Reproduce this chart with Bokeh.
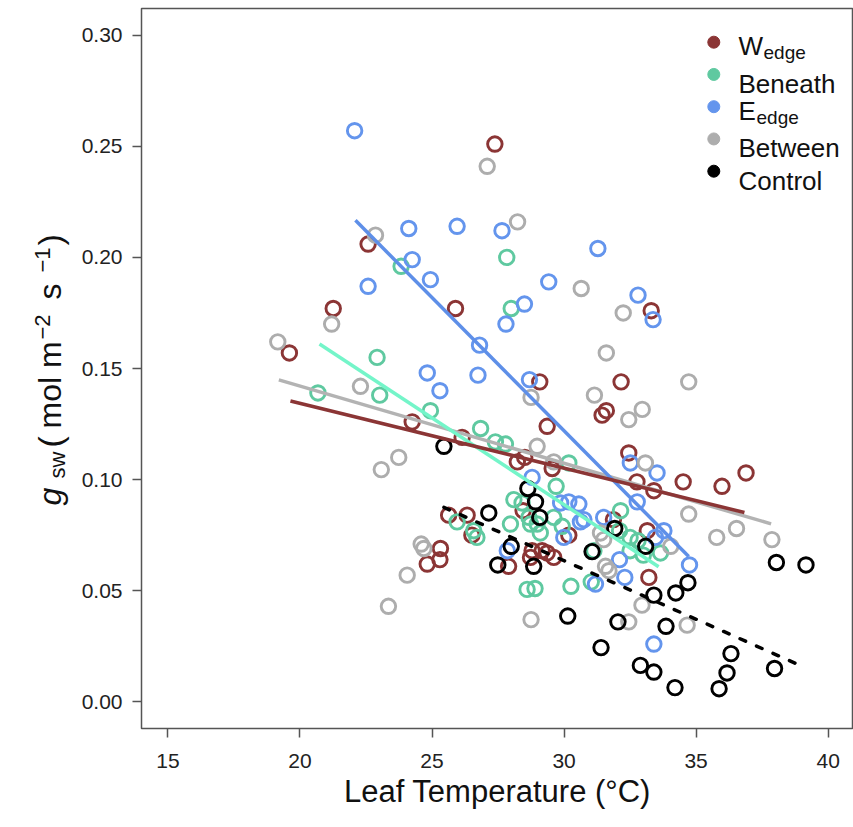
import numpy as np
from bokeh.plotting import figure
from bokeh.layouts import row
from bokeh.models import Range1d, FixedTicker, PrintfTickFormatter, Label
from bokeh.core.properties import value
from bokeh.embed import file_html
from bokeh.resources import INLINE

# ---------------- data ----------------
wedge_x = [22.58, 21.26, 19.6, 27.38, 25.89, 29.08, 32.16, 31.44, 31.6, 29.36, 24.25, 26.14,
           28.23, 28.51, 29.55, 28.45, 31.87, 25.63, 26.33, 26.51, 28.79, 29.36, 25.32, 25.3,
           24.82, 27.9, 28.73, 29.61, 33.21, 32.45, 32.76, 33.4, 34.51, 35.98, 36.89, 33.15,
           30.18, 29.17, 33.3]
wedge_y = [0.206, 0.177, 0.157, 0.251, 0.177, 0.144, 0.144, 0.129, 0.131, 0.124, 0.126, 0.119,
           0.108, 0.110, 0.105, 0.086, 0.082, 0.084, 0.084, 0.075, 0.068, 0.067, 0.069, 0.064,
           0.062, 0.061, 0.065, 0.065, 0.056, 0.112, 0.099, 0.095, 0.099, 0.097, 0.103, 0.077,
           0.075, 0.068, 0.176]

beneath_x = [22.92, 20.68, 23.02, 27.83, 23.83, 28.0, 24.94, 26.84, 27.4, 27.78, 30.18, 29.7,
             28.1, 28.41, 28.67, 28.98, 29.61, 32.14, 25.95, 26.7, 28.6, 28.9, 30.26, 31.03,
             28.73, 29.1, 29.93, 27.97, 32.1, 32.5, 32.8, 33.65, 31.13, 26.58, 32.5, 33.0]
beneath_y = [0.155, 0.139, 0.138, 0.200, 0.196, 0.177, 0.131, 0.123, 0.117, 0.116, 0.1075, 0.097,
             0.091, 0.0895, 0.083, 0.080, 0.083, 0.086, 0.081, 0.074, 0.0506, 0.051, 0.052, 0.054,
             0.080, 0.076, 0.079, 0.080, 0.077, 0.074, 0.0725, 0.067, 0.068, 0.077, 0.068, 0.066]

eedge_x = [22.07, 22.58, 24.12, 25.95, 27.65, 31.28, 24.25, 24.94, 29.42, 32.8, 28.5, 27.8,
           26.8, 33.37, 24.82, 25.3, 26.74, 28.69, 28.79, 30.18, 29.87, 30.56, 30.75, 31.5,
           32.51, 33.52, 32.77, 33.78, 33.46, 29.99, 27.85, 31.19, 32.1, 32.3, 34.75, 33.4, 30.62]
eedge_y = [0.257, 0.187, 0.213, 0.214, 0.212, 0.204, 0.199, 0.190, 0.189, 0.183, 0.179, 0.170,
           0.1605, 0.172, 0.148, 0.140, 0.147, 0.145, 0.101, 0.090, 0.0895, 0.089, 0.082, 0.083,
           0.1075, 0.103, 0.090, 0.077, 0.074, 0.074, 0.068, 0.053, 0.064, 0.056, 0.0616, 0.026, 0.081]

between_x = [19.16, 21.2, 22.86, 27.09, 28.24, 30.65, 32.24, 31.6, 22.29, 23.08, 23.74, 28.75,
             31.15, 32.45, 32.96, 28.98, 29.61, 34.72, 33.08, 34.72, 36.53, 35.78, 37.87, 34.04,
             24.59, 24.69, 24.06, 23.35, 28.75, 31.7, 32.45, 32.95, 34.66, 31.38, 31.5, 31.57]
between_y = [0.162, 0.170, 0.210, 0.241, 0.216, 0.186, 0.175, 0.157, 0.142, 0.1045, 0.110, 0.137,
             0.138, 0.127, 0.1316, 0.115, 0.108, 0.144, 0.1075, 0.0845, 0.078, 0.074, 0.073, 0.070,
             0.071, 0.069, 0.057, 0.043, 0.037, 0.059, 0.036, 0.0435, 0.0345, 0.076, 0.073, 0.061]

control_x = [25.45, 28.63, 28.92, 29.08, 31.92, 27.15, 28.0, 27.49, 28.85, 31.06, 33.09, 30.14,
             32.04, 31.4, 38.04, 39.16, 34.69, 34.23, 33.4, 33.86, 32.89, 33.4, 34.2, 36.32,
             36.17, 35.87, 37.97]
control_y = [0.115, 0.096, 0.090, 0.083, 0.078, 0.085, 0.070, 0.0616, 0.061, 0.0676, 0.070, 0.0386,
             0.036, 0.0244, 0.0627, 0.0616, 0.0536, 0.049, 0.048, 0.034, 0.0164, 0.0134, 0.0064, 0.0217,
             0.013, 0.0059, 0.015]

# fitted regression lines (end points)
wedge_fit_x = [19.64, 36.83];   wedge_fit_y = [0.1354, 0.0852]
beneath_fit_x = [20.74, 33.58]; beneath_fit_y = [0.161, 0.0608]
eedge_fit_x = [22.1, 34.72];    eedge_fit_y = [0.2167, 0.0654]
between_fit_x = [19.2, 37.84];  between_fit_y = [0.1449, 0.0801]
control_fit_x = [25.45, 39.07]; control_fit_y = [0.0875, 0.0157]

x_ticks = [15, 20, 25, 30, 35, 40]
y_ticks = [0.0, 0.05, 0.10, 0.15, 0.20, 0.25, 0.30]

# ---------------- layout / styling ----------------
FONT = "Liberation Sans"
W, H = 853, 827
LW = 74                     # width of the strip holding the rotated y label
ML, MR, MT, MB = 141, 0, 8, 99
FW, FH = W - ML - MR, H - MT - MB
PX_PER_X = 26.41
X0 = 14.0
X1 = X0 + FW / PX_PER_X

series = [
    dict(x=wedge_x, y=wedge_y, fx=wedge_fit_x, fy=wedge_fit_y, col="#8b3535", lcol="#8b3535", dash="solid"),
    dict(x=beneath_x, y=beneath_y, fx=beneath_fit_x, fy=beneath_fit_y, col="#5fc9a0", lcol="#74f5c9", dash="solid"),
    dict(x=eedge_x, y=eedge_y, fx=eedge_fit_x, fy=eedge_fit_y, col="#6495ed", lcol="#5e8fe8", dash="solid"),
    dict(x=between_x, y=between_y, fx=between_fit_x, fy=between_fit_y, col="#adadad", lcol="#b3b3b3", dash="solid"),
    dict(x=control_x, y=control_y, fx=control_fit_x, fy=control_fit_y, col="#000000", lcol="#000000", dash="6 12"),
]

p = figure(width=W - LW, height=H, x_range=Range1d(X0, X1), y_range=Range1d(-0.012, 0.312),
           output_backend="svg", toolbar_location=None,
           min_border_left=ML - LW, min_border_right=MR, min_border_top=MT, min_border_bottom=MB)
p.extra_x_ranges = {"px": Range1d(0, FW)}
p.extra_y_ranges = {"py": Range1d(0, FH)}

p.xgrid.visible = False
p.ygrid.visible = False
p.outline_line_color = "#555555"
p.outline_line_width = 1.5
p.background_fill_color = "white"
p.border_fill_color = "white"

for ax in (p.xaxis[0], p.yaxis[0]):
    ax.axis_line_color = None
    ax.major_tick_out = 9
    ax.major_tick_in = 0
    ax.minor_tick_out = 0
    ax.minor_tick_in = 0
    ax.major_tick_line_color = "#555555"
    ax.major_tick_line_width = 1.5
    ax.major_label_text_font = FONT
    ax.major_label_text_font_size = "21px"
    ax.major_label_text_color = "#222222"

p.xaxis.ticker = FixedTicker(ticks=x_ticks)
p.yaxis.ticker = FixedTicker(ticks=y_ticks)
p.yaxis.formatter = PrintfTickFormatter(format="%.2f")
p.xaxis.major_label_standoff = 16
p.yaxis.major_label_standoff = 10
p.xaxis.axis_label = "Leaf Temperature (°C)"
p.xaxis.axis_label_text_font = FONT
p.xaxis.axis_label_text_font_size = "31px"
p.xaxis.axis_label_text_font_style = "normal"
p.xaxis.axis_label_text_color = "#111111"
p.xaxis.axis_label_standoff = 3

# points
for s in series:
    p.scatter(s["x"], s["y"], marker="circle", size=14.5, fill_color=None,
              line_color=s["col"], line_width=2.9)
# regression lines
for i in (3, 1, 2, 0, 4):
    s = series[i]
    p.line(s["fx"], s["fy"], line_color=s["lcol"], line_width=3.5,
           line_dash=s["dash"], line_cap="round" if s["dash"] != "solid" else "butt")

# ---------------- legend ----------------
leg_names = [("W", "edge"), ("Beneath", None), ("E", "edge"), ("Between", None), ("Control", None)]
leg_cols = [s["col"] for s in series]
row0, dy = 41.7, 32.25
rows = [row0 + i * dy for i in range(5)]
p.scatter([713.3 - ML] * 5, [(MT + FH) - r for r in rows], marker="circle", size=12,
          fill_color=leg_cols, line_color=leg_cols, x_range_name="px", y_range_name="py")
main_w = {"W": 24.5, "E": 17.5}
for (name, sub), r in zip(leg_names, rows):
    base = r + (4 if sub else 9.3)
    p.add_layout(Label(x=738 - ML, y=(MT + FH) - base, x_units="screen", y_units="screen",
                       text=name, text_font=FONT, text_font_size="26px", text_color="#111111",
                       text_align="left", text_baseline="alphabetic"))
    if sub:
        p.add_layout(Label(x=738 - ML + main_w[name] + 0.5, y=(MT + FH) - (r + 10.5),
                           x_units="screen", y_units="screen", text=sub, text_font=FONT,
                           text_font_size="19px", text_color="#111111",
                           text_align="left", text_baseline="alphabetic"))

# ---------------- y-axis label strip (rotated pieces) ----------------
# its frame is aligned with the main frame vertically (image y MT .. MT+FH)
q = figure(width=LW, height=H, x_range=Range1d(0, LW), y_range=Range1d(0, FH),
           output_backend="svg", toolbar_location=None,
           x_axis_location=None, y_axis_location=None,
           min_border_left=0, min_border_right=0, min_border_top=MT, min_border_bottom=MB)
q.xgrid.visible = False
q.ygrid.visible = False
q.outline_line_color = None
q.background_fill_color = "white"
q.border_fill_color = "white"

def ylab(text, ximg, yimg, size, style="normal"):
    q.text(x=[ximg], y=[(MT + FH) - yimg], text=[text], angle=np.pi / 2,
           text_align="left", text_baseline="alphabetic",
           text_font=value(FONT), text_font_size=value(f"{size}px"),
           text_font_style=style, text_color="#111111")

ylab("g", 49, 505, 32, "italic")
ylab("sw", 57, 478, 22)
ylab("(", 49, 447, 34)
ylab("mol m", 49, 428, 32)
ylab("\u22122", 42, 339, 22)
ylab("s", 49, 299, 32)
ylab("\u22121", 42, 272, 22)
ylab(")", 49, 245, 34)

layout = row(q, p)
open("out.html", "w").write(file_html(layout, INLINE))
